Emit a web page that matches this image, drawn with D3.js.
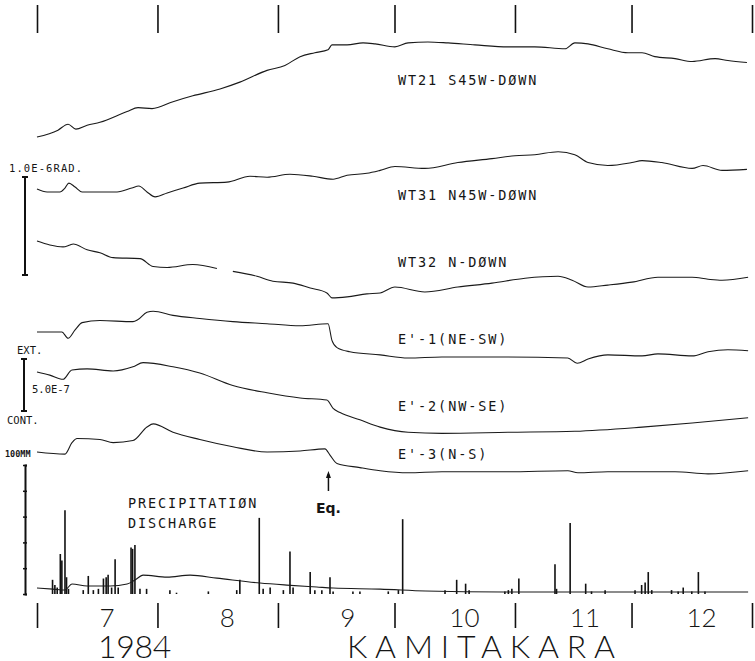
<!DOCTYPE html>
<html>
<head>
<meta charset="utf-8">
<script src="https://cdn.jsdelivr.net/npm/d3@7"></script>
<style>
  body { margin: 0; background: #fff; }
  svg { display: block; }
  .lbl { font-family: "DejaVu Sans Mono", monospace; fill: #151515; }
  .big { font-family: Lato, sans-serif; font-weight: 300; fill: #151515; }
</style>
</head>
<body>
<div id="chart"></div>
<script>

// days are counted from 1 July 1984, trace values in 1.0E-7 (rad or strain), relative to start
var wt21 = [[0,0],[5.4,0.7],[8,1.3],[10,0.8],[12.9,1.2],[16.2,1.5],[23.2,2.6],[26,3.0],[29.6,2.9],[35,3.6],
  [40.1,4.2],[47.1,4.9],[52.2,5.6],[59.2,6.8],[63.8,7.3],[67.7,8.2],[71.5,8.6],[74.9,8.9],[75.9,9.4],[79.8,9.4],
  [83.9,9.6],[87,9.5],[92.1,9.2],[95.5,9.6],[100.6,9.7],[105.8,9.6],[112.7,9.4],[121.2,9.2],[128.1,9.2],[135.9,9.0],
  [138.4,9.6],[141.8,9.5],[146.9,9.0],[152.1,8.6],[155.7,8.6],[159,8.2],[164.2,8.0],[168.6,7.7],[174.5,8.0],[177.8,7.8],[182.7,7.6]];

var wt31 = [[0,0],[2.6,-0.3],[5.9,-0.3],[7.2,0.1],[8.2,0.6],[9.8,0.2],[11.6,-0.3],[16.2,-0.3],[20.6,-0.3],[24.4,0.1],
  [26.2,0.3],[28.3,-0.3],[30.4,-0.8],[33.5,-0.4],[37.6,0.1],[41.9,0.6],[48.9,0.7],[54.8,1.3],[59.2,1.2],[65.1,1.5],
  [71,1.3],[76.2,1.0],[79.8,1.4],[84.9,1.6],[88.3,1.9],[92.1,2.3],[99.8,2.1],[108.3,2.7],[117.1,3.1],[123,3.4],
  [128.1,3.5],[134.1,3.8],[138.4,3.5],[141.8,2.7],[146.9,2.4],[153.1,2.7],[155.7,2.9],[160.8,2.7],[168.6,2.1],[171.4,2.4],
  [176.3,1.9],[182.7,2.0]];

var wt32 = [[0,0],[3.3,-0.4],[6.7,-0.6],[8.5,-0.4],[9.3,-0.3],[12.9,-0.9],[16.2,-1.2],[19.6,-1.7],[26.5,-1.8],[29.9,-2.6],
  [33.5,-2.7],[40.1,-2.4],[46.3,-2.8],[48,null],[50.4,-3.1],[56.6,-3.6],[60.7,-4.1],[65.9,-4.3],[70.3,-4.8],[74.6,-5.3],
  [75.9,-5.8],[79.8,-5.7],[84.9,-5.4],[88.3,-5.3],[92.1,-4.7],[99.8,-5.2],[108.3,-4.7],[117.1,-4.3],[125.6,-3.8],[134.1,-3.6],
  [137.7,-4.0],[141.8,-4.7],[146.9,-4.5],[153.1,-4.2],[159.8,-3.7],[168.6,-3.7],[172.7,-3.9],[176.3,-4.0],[183,-3.7]];

var e1 = [[0,0],[6.4,0],[8,-0.6],[9.8,0.2],[11.6,0.9],[16.2,1.1],[24.7,1.0],[26,1.2],[28.3,1.9],[29.9,2.0],
  [35,1.6],[41.9,1.3],[50.4,1.0],[59.2,0.8],[67.7,0.6],[74.9,0.8],[75.9,-0.8],[77.2,-1.5],[80.5,-1.9],[88.3,-2.2],
  [95.5,-2.5],[104.2,-2.4],[121.2,-2.4],[136.6,-2.5],[139,-3.0],[141.8,-2.6],[146.9,-2.2],[155.7,-2.3],[159.8,-2.1],[168.6,-2.3],
  [172.7,-1.9],[177.8,-1.7],[183,-1.8]];

var e2 = [[0,0],[3.3,-0.3],[6.7,-0.7],[9,0.2],[12.9,0.3],[19.6,0.1],[24.7,0.5],[27.3,0.9],[35,0.5],[41.9,-0.1],
  [50.4,-1.3],[59.2,-2.0],[67.7,-2.5],[74.6,-2.7],[76.2,-3.5],[78,-3.9],[83.1,-4.6],[88.3,-5.3],[95.5,-5.8],[104.2,-5.9],
  [121.2,-5.8],[138.4,-5.7],[155.7,-5.3],[168.6,-4.9],[183,-4.4]];

var e3 = [[0,0],[7.2,-0.2],[9,0.9],[10.3,1.3],[16.2,1.2],[19.6,0.9],[24.7,1.1],[28.3,2.4],[29.9,2.7],[35,1.9],
  [41.9,1.2],[50.4,0.5],[59.2,0],[67.7,0.1],[74.1,0.3],[75.4,-0.3],[77.2,-1.1],[83.1,-1.5],[88.3,-1.8],[95.5,-2.0],
  [104.2,-1.9],[121.2,-1.9],[136.6,-1.8],[139.2,-2.0],[146.9,-1.9],[164.2,-1.9],[172.7,-2.1],[183,-1.8]];

// river discharge, relative, drawn on the mm axis
var discharge = [[0,4.6],[4.1,3.8],[7.2,3.1],[9,7.7],[12.9,6.2],[18.8,6.2],[23.2,7.7],[25.2,10.8],[27.3,14.6],[33.5,13.1],
  [39.4,14.6],[46.3,12.3],[57.4,8.5],[64.3,6.9],[72,5.4],[76.2,4.6],[88.3,3.8],[100,2.3],[120,1.5],[183,1.5]];

// precipitation, mm
var rainDay = [4.0,4.6,5.2,6.0,6.4,7.2,7.6,8.1,11.9,13.2,14.5,15.8,17.1,17.8,18.3,19.2,20.1,20.9,24.2,24.6,
  25.2,26.5,28.2,34.2,35.9,44.1,51.4,52.2,57.2,58.2,60,63.4,65.1,65.9,70.3,71.5,73.3,75.4,76.2,81.3,
  83.1,90.4,93,94.1,105,108,110.3,111.2,120.4,121.3,122.2,124,133.3,133.7,137.2,141.2,142.7,146.2,153.9,155.6,
  156.5,157.3,158.2,163.3,165,166.3,168.5,170.2,171.9];
var rainMM = [11,7,5,31,26,65,13,4,3,14,3,4,12,13,15,5,27,5,36,35,
  38,4,4,3,1,2,3,11,59,4,5,3,33,5,17,3,3,13,2,2,
  2,2,3,58,3,11,8,3,2,3,4,12,23,4,55,8,2,3,3,7,
  9,17,3,3,2,5,2,17,2];

var traceNames = ["WT21 S45W-DØWN", "WT31 N45W-DØWN", "WT32 N-DØWN", "E'-1(NE-SW)", "E'-2(NW-SE)", "E'-3(N-S)"];
var monthLabels = ["7", "8", "9", "10", "11", "12"];
var eqDay = 75;   // 14 Sep 1984

function init(){
	var w = 755, h = 661;
	var t0 = new Date(Date.UTC(1984, 6, 1));
	var t1 = new Date(Date.UTC(1985, 0, 1));

	var x = d3.scaleUtc().domain([t0, t1]).range([37, 752]);
	function dx(d){ return x(new Date(t0.getTime() + d * 864e5)); }

	var yTilt = d3.scaleLinear().domain([0, 10]).range([0, -98]);     // 1.0E-6 rad bar
	var yStrain = d3.scaleLinear().domain([0, 5]).range([0, -52]);    // 5.0E-7 bar
	var yRain = d3.scaleLinear().domain([0, 100]).range([594, 465]);

	var svg = d3.select("#chart").append("svg").attr("width", w).attr("height", h);

	// month ticks top and bottom
	var months = x.ticks(d3.utcMonth.every(1));
	function tickStyle(g){
		g.select(".domain").remove();
		g.selectAll("line").attr("stroke", "#111").attr("stroke-width", 1.6);
	}
	svg.append("g").attr("transform", "translate(0,5)")
		.call(d3.axisBottom(x).tickValues(months).tickSize(28).tickFormat(""))
		.call(tickStyle);
	svg.append("g").attr("transform", "translate(0,603)")
		.call(d3.axisBottom(x).tickValues(months).tickSize(25).tickFormat(""))
		.call(tickStyle);

	svg.selectAll(".month").data(monthLabels).enter().append("text")
		.attr("class", "big")
		.attr("x", function(d, i){ return x(new Date(Date.UTC(1984, 6 + i, 19))); })
		.attr("y", 627)
		.attr("text-anchor", "middle")
		.attr("font-size", 26)
		.text(function(d){ return d; });

	svg.append("text").attr("class", "big").attr("x", 98).attr("y", 658)
		.attr("font-size", 32).attr("letter-spacing", -0.3).text("1984");
	svg.append("text").attr("class", "big").attr("x", 347).attr("y", 658)
		.attr("font-size", 32).attr("letter-spacing", 7.8).text("KAMITAKARA");

	// traces
	var traces = [
		{data: wt21, y: yTilt, base: 137, ly: 85},
		{data: wt31, y: yTilt, base: 189, ly: 200},
		{data: wt32, y: yTilt, base: 241, ly: 267},
		{data: e1, y: yStrain, base: 332, ly: 344},
		{data: e2, y: yStrain, base: 372, ly: 411},
		{data: e3, y: yStrain, base: 452, ly: 459}
	];
	traces.forEach(function(t, i){
		var line = d3.line()
			.defined(function(d){ return d[1] != null; })
			.x(function(d){ return dx(d[0]); })
			.y(function(d){ return t.base + t.y(d[1]); })
			.curve(d3.curveMonotoneX);
		svg.append("path").datum(t.data)
			.attr("d", line)
			.attr("fill", "none")
			.attr("stroke", "#1a1a1a")
			.attr("stroke-width", 1.1);
		svg.append("text").attr("class", "lbl")
			.attr("x", 398).attr("y", t.ly)
			.attr("font-size", 13.5).attr("letter-spacing", 1.9)
			.text(traceNames[i]);
	});

	// scale bars
	function bar(xp, y0, y1){
		svg.append("line").attr("x1", xp).attr("x2", xp).attr("y1", y0).attr("y2", y1)
			.attr("stroke", "#111").attr("stroke-width", 2);
		[y0, y1].forEach(function(yy){
			svg.append("line").attr("x1", xp - 3).attr("x2", xp + 3).attr("y1", yy).attr("y2", yy)
				.attr("stroke", "#111").attr("stroke-width", 2);
		});
	}
	bar(25, 177, 177 - yTilt(10));
	svg.append("text").attr("class", "lbl").attr("x", 9).attr("y", 172).attr("font-size", 10.5).attr("letter-spacing", 1.1).text("1.0E-6RAD.");
	bar(24, 359, 359 - yStrain(5));
	svg.append("text").attr("class", "lbl").attr("x", 17).attr("y", 354).attr("font-size", 10.5).text("EXT.");
	svg.append("text").attr("class", "lbl").attr("x", 32).attr("y", 393).attr("font-size", 10.5).text("5.0E-7");
	svg.append("text").attr("class", "lbl").attr("x", 7).attr("y", 424).attr("font-size", 10.5).text("CONT.");

	// precipitation axis
	svg.append("g").attr("transform", "translate(25,0)")
		.call(d3.axisRight(yRain).ticks(5).tickSize(2).tickFormat(""))
		.call(function(g){
			g.select(".domain").attr("stroke", "#111").attr("stroke-width", 2);
			g.selectAll("line").attr("stroke", "#111").attr("stroke-width", 1.5).attr("x1", -2);
		});
	svg.append("text").attr("class", "lbl").attr("x", 5).attr("y", 457).attr("font-size", 8.5).attr("font-weight", "bold").text("100MM");

	svg.selectAll(".rain").data(rainDay).enter().append("line")
		.attr("x1", function(d){ return dx(d); })
		.attr("x2", function(d){ return dx(d); })
		.attr("y1", yRain(0))
		.attr("y2", function(d, i){ return yRain(rainMM[i]); })
		.attr("stroke", "#111")
		.attr("stroke-width", 1.6);

	svg.append("path").datum(discharge)
		.attr("d", d3.line().x(function(d){ return dx(d[0]); }).y(function(d){ return yRain(d[1]); }).curve(d3.curveMonotoneX))
		.attr("fill", "none").attr("stroke", "#1a1a1a").attr("stroke-width", 1.1);

	svg.append("text").attr("class", "lbl").attr("x", 128).attr("y", 508).attr("font-size", 13.5).attr("letter-spacing", 1.9).text("PRECIPITATIØN");
	svg.append("text").attr("class", "lbl").attr("x", 128).attr("y", 528).attr("font-size", 13.5).attr("letter-spacing", 1.9).text("DISCHARGE");

	// earthquake arrow
	var ex = dx(eqDay);
	svg.append("line").attr("x1", ex).attr("x2", ex).attr("y1", 474).attr("y2", 491)
		.attr("stroke", "#111").attr("stroke-width", 1.5);
	svg.append("path").attr("d", "M" + (ex - 2.5) + ",478L" + ex + ",471L" + (ex + 2.5) + ",478Z").attr("fill", "#111");
	svg.append("text").attr("class", "lbl").attr("x", ex).attr("y", 513).attr("text-anchor", "middle")
		.style("font-family", "'DejaVu Sans', sans-serif").attr("font-weight", "bold").attr("font-size", 14).text("Eq.");
}

window.onload = init;
</script>
</body>
</html>
